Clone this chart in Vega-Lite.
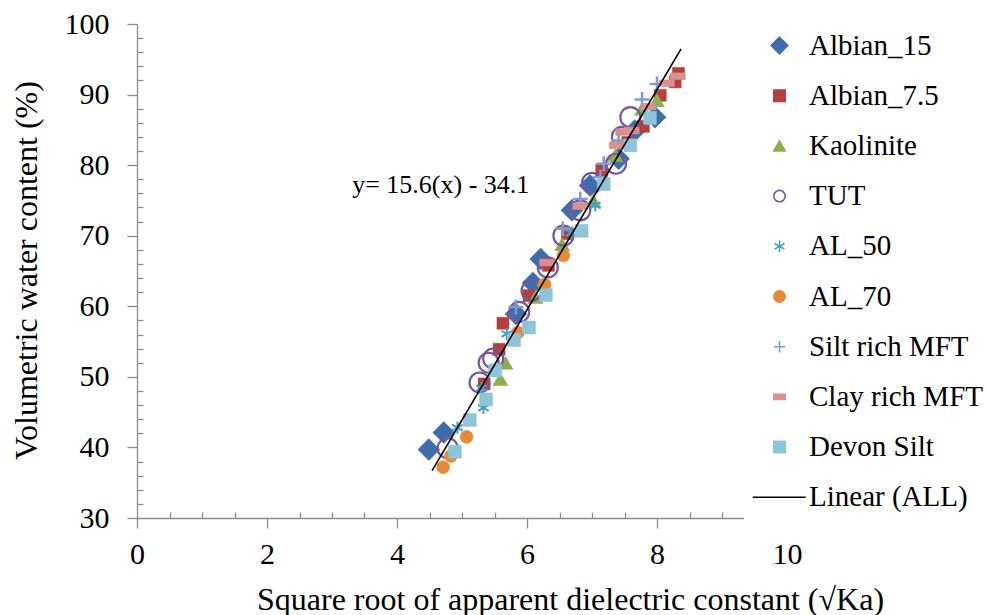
{
  "$schema": "https://vega.github.io/schema/vega-lite/v6.json",
  "width": 650,
  "height": 494,
  "autosize": {"type": "none"},
  "padding": {"left": 137, "top": 24, "right": 200, "bottom": 97},
  "background": "white",
  "config": {
    "view": {"stroke": null},
    "font": "Liberation Serif"
  },
  "resolve": {"axis": {"x": "independent", "y": "independent"}},
  "layer": [
    {
      "data": {
        "values": [
          {"series": "Albian_15", "ka": 4.49, "vwc": 39.7},
          {"series": "Albian_15", "ka": 4.72, "vwc": 42.1},
          {"series": "Albian_15", "ka": 5.83, "vwc": 58.9},
          {"series": "Albian_15", "ka": 6.09, "vwc": 63.3},
          {"series": "Albian_15", "ka": 6.21, "vwc": 66.7},
          {"series": "Albian_15", "ka": 6.69, "vwc": 73.6},
          {"series": "Albian_15", "ka": 6.97, "vwc": 77.1},
          {"series": "Albian_15", "ka": 7.41, "vwc": 80.9},
          {"series": "Albian_15", "ka": 7.66, "vwc": 84.9},
          {"series": "Albian_15", "ka": 7.97, "vwc": 86.8},

          {"series": "Albian_7.5", "ka": 5.34, "vwc": 49.0},
          {"series": "Albian_7.5", "ka": 5.57, "vwc": 53.9},
          {"series": "Albian_7.5", "ka": 5.63, "vwc": 57.6},
          {"series": "Albian_7.5", "ka": 6.03, "vwc": 61.5},
          {"series": "Albian_7.5", "ka": 6.33, "vwc": 65.8},
          {"series": "Albian_7.5", "ka": 6.62, "vwc": 70.3},
          {"series": "Albian_7.5", "ka": 7.15, "vwc": 79.3},
          {"series": "Albian_7.5", "ka": 7.55, "vwc": 83.2},
          {"series": "Albian_7.5", "ka": 7.79, "vwc": 85.5},
          {"series": "Albian_7.5", "ka": 8.05, "vwc": 89.9},
          {"series": "Albian_7.5", "ka": 8.28, "vwc": 91.8},
          {"series": "Albian_7.5", "ka": 8.33, "vwc": 93.0},

          {"series": "Kaolinite", "ka": 5.59, "vwc": 49.7},
          {"series": "Kaolinite", "ka": 5.67, "vwc": 52.0},
          {"series": "Kaolinite", "ka": 6.13, "vwc": 61.3},
          {"series": "Kaolinite", "ka": 6.54, "vwc": 68.8},
          {"series": "Kaolinite", "ka": 7.02, "vwc": 75.0},
          {"series": "Kaolinite", "ka": 7.36, "vwc": 81.4},
          {"series": "Kaolinite", "ka": 7.77, "vwc": 88.0},
          {"series": "Kaolinite", "ka": 8.0, "vwc": 89.2},

          {"series": "TUT", "ka": 4.78, "vwc": 39.9},
          {"series": "TUT", "ka": 5.27, "vwc": 49.2},
          {"series": "TUT", "ka": 5.41, "vwc": 52.0},
          {"series": "TUT", "ka": 5.48, "vwc": 52.6},
          {"series": "TUT", "ka": 5.88, "vwc": 59.2},
          {"series": "TUT", "ka": 6.07, "vwc": 62.2},
          {"series": "TUT", "ka": 6.32, "vwc": 65.5},
          {"series": "TUT", "ka": 6.56, "vwc": 70.0},
          {"series": "TUT", "ka": 6.82, "vwc": 73.6},
          {"series": "TUT", "ka": 7.0, "vwc": 77.5},
          {"series": "TUT", "ka": 7.37, "vwc": 80.2},
          {"series": "TUT", "ka": 7.46, "vwc": 84.0},
          {"series": "TUT", "ka": 7.59, "vwc": 86.8},

          {"series": "AL_50", "ka": 4.93, "vwc": 42.8},
          {"series": "AL_50", "ka": 5.33, "vwc": 45.6},
          {"series": "AL_50", "ka": 5.30, "vwc": 48.4},
          {"series": "AL_50", "ka": 5.69, "vwc": 56.1},
          {"series": "AL_50", "ka": 6.23, "vwc": 62.6},
          {"series": "AL_50", "ka": 6.68, "vwc": 70.4},
          {"series": "AL_50", "ka": 7.05, "vwc": 74.3},

          {"series": "AL_70", "ka": 4.71, "vwc": 37.2},
          {"series": "AL_70", "ka": 4.83, "vwc": 38.8},
          {"series": "AL_70", "ka": 5.07, "vwc": 41.5},
          {"series": "AL_70", "ka": 5.86, "vwc": 56.3},
          {"series": "AL_70", "ka": 6.27, "vwc": 63.1},
          {"series": "AL_70", "ka": 6.56, "vwc": 67.2},

          {"series": "Silt rich MFT", "ka": 5.83, "vwc": 59.9},
          {"series": "Silt rich MFT", "ka": 6.55, "vwc": 71.0},
          {"series": "Silt rich MFT", "ka": 6.82, "vwc": 75.2},
          {"series": "Silt rich MFT", "ka": 7.13, "vwc": 78.3},
          {"series": "Silt rich MFT", "ka": 7.18, "vwc": 80.2},
          {"series": "Silt rich MFT", "ka": 7.41, "vwc": 83.5},
          {"series": "Silt rich MFT", "ka": 7.77, "vwc": 89.3},
          {"series": "Silt rich MFT", "ka": 8.0, "vwc": 91.5},

          {"series": "Clay rich MFT", "ka": 6.31, "vwc": 66.2},
          {"series": "Clay rich MFT", "ka": 6.82, "vwc": 74.2},
          {"series": "Clay rich MFT", "ka": 7.38, "vwc": 82.8},
          {"series": "Clay rich MFT", "ka": 7.48, "vwc": 84.7},
          {"series": "Clay rich MFT", "ka": 7.61, "vwc": 84.9},
          {"series": "Clay rich MFT", "ka": 7.87, "vwc": 88.3},
          {"series": "Clay rich MFT", "ka": 8.15, "vwc": 91.6},
          {"series": "Clay rich MFT", "ka": 8.32, "vwc": 92.6},

          {"series": "Devon Silt", "ka": 4.89, "vwc": 39.4},
          {"series": "Devon Silt", "ka": 5.12, "vwc": 43.9},
          {"series": "Devon Silt", "ka": 5.37, "vwc": 46.8},
          {"series": "Devon Silt", "ka": 5.51, "vwc": 50.9},
          {"series": "Devon Silt", "ka": 5.80, "vwc": 55.2},
          {"series": "Devon Silt", "ka": 6.03, "vwc": 57.0},
          {"series": "Devon Silt", "ka": 6.29, "vwc": 61.6},
          {"series": "Devon Silt", "ka": 6.84, "vwc": 70.7},
          {"series": "Devon Silt", "ka": 7.18, "vwc": 77.3},
          {"series": "Devon Silt", "ka": 7.59, "vwc": 82.8},
          {"series": "Devon Silt", "ka": 7.89, "vwc": 86.7}
        ]
      },
      "mark": {"type": "point", "opacity": 1},
      "encoding": {
        "x": {
          "field": "ka",
          "type": "quantitative",
          "scale": {"domain": [0, 10], "nice": false, "zero": false},
          "axis": {
            "orient": "bottom",
            "title": "Square root of apparent dielectric constant (√Ka)",
            "values": [0, 2, 4, 6, 8, 10],
            "format": "d",
            "grid": false,
            "domainColor": "#8c8c8c",
            "domainWidth": 1.3,
            "tickColor": "#8c8c8c",
            "tickWidth": 1.3,
            "tickSize": 10,
            "labelFont": "Liberation Serif",
            "labelFontSize": 30,
            "labelColor": "black",
            "labelPadding": 11,
            "labelFlush": false,
            "labelOverlap": false,
            "titleFont": "Liberation Serif",
            "titleFontSize": 32,
            "titleFontWeight": "normal",
            "titleColor": "black",
            "titleX": 433,
            "titleY": 91,
            "titleAlign": "center",
            "titleBaseline": "alphabetic"
          }
        },
        "y": {
          "field": "vwc",
          "type": "quantitative",
          "scale": {"domain": [30, 100], "nice": false, "zero": false},
          "axis": {
            "orient": "left",
            "title": "Volumetric water  content (%)",
            "values": [30, 40, 50, 60, 70, 80, 90, 100],
            "format": "d",
            "grid": false,
            "domainColor": "#8c8c8c",
            "domainWidth": 1.3,
            "tickColor": "#8c8c8c",
            "tickWidth": 1.3,
            "tickSize": 10,
            "labelFont": "Liberation Serif",
            "labelFontSize": 30,
            "labelColor": "black",
            "labelPadding": 18,
            "labelFlush": false,
            "labelOverlap": false,
            "titleFont": "Liberation Serif",
            "titleFontSize": 32,
            "titleFontWeight": "normal",
            "titleColor": "black",
            "titleX": -101,
            "titleY": 246,
            "titleAlign": "center",
            "titleBaseline": "alphabetic",
            "titleAngle": -90
          }
        },
        "fill": {
          "field": "series",
          "type": "nominal",
          "scale": {
            "domain": ["Albian_15", "Albian_7.5", "Kaolinite", "TUT", "AL_50", "AL_70", "Silt rich MFT", "Clay rich MFT", "Devon Silt", "Linear (ALL)"],
            "range": ["#3e6dab", "#b53f3c", "#8dae4c", "transparent", "transparent", "#e58a3a", "transparent", "#d9908f", "#8ec5d9", "transparent"]
          },
          "legend": {
            "title": null,
            "orient": "none",
            "legendX": 607,
            "legendY": -14,
            "fillColor": "white",
            "padding": 21,
            "labelFont": "Liberation Serif",
            "labelFontSize": 29,
            "labelColor": "black",
            "labelLimit": 300,
            "labelOffset": 15,
            "symbolSize": 130,
            "symbolStrokeWidth": 1.6,
            "rowPadding": 20.2
          }
        },
        "stroke": {
          "field": "series",
          "type": "nominal",
          "scale": {
            "domain": ["Albian_15", "Albian_7.5", "Kaolinite", "TUT", "AL_50", "AL_70", "Silt rich MFT", "Clay rich MFT", "Devon Silt", "Linear (ALL)"],
            "range": ["#3e6dab", "#b53f3c", "#8dae4c", "#7857a0", "#3fa2bf", "#e58a3a", "#7e9cd3", "#d9908f", "#8ec5d9", "#000000"]
          },
          "legend": {"title": null, "orient": "none", "legendX": 607, "legendY": -14}
        },
        "shape": {
          "field": "series",
          "type": "nominal",
          "scale": {
            "domain": ["Albian_15", "Albian_7.5", "Kaolinite", "TUT", "AL_50", "AL_70", "Silt rich MFT", "Clay rich MFT", "Devon Silt", "Linear (ALL)"],
            "range": ["M0,-1.45L1.45,0L0,1.45L-1.45,0Z", "square", "triangle-up", "circle", "M0,-1L0,1M-0.87,-0.5L0.87,0.5M-0.87,0.5L0.87,-0.5", "circle", "M-1,0L1,0M0,-1L0,1", "M-1,-0.45L1,-0.45L1,0.45L-1,0.45Z", "square", "M-4.7,0L4.6,0"]
          },
          "legend": {"title": null, "orient": "none", "legendX": 607, "legendY": -14}
        },
        "size": {
          "field": "series",
          "type": "nominal",
          "scale": {
            "type": "ordinal",
            "domain": ["Linear (ALL)", "Devon Silt", "Clay rich MFT", "Silt rich MFT", "AL_70", "AL_50", "TUT", "Kaolinite", "Albian_7.5", "Albian_15"],
            "range": [130, 169, 225, 225, 169, 150, 400, 225, 144, 230]
          },
          "legend": null
        },
        "strokeWidth": {
          "field": "series",
          "type": "nominal",
          "scale": {
            "type": "ordinal",
            "domain": ["TUT", "AL_50", "Silt rich MFT", "Linear (ALL)", "Albian_15", "Albian_7.5", "Kaolinite", "AL_70", "Clay rich MFT", "Devon Silt"],
            "range": [2.2, 2, 2.5, 1.5, 0.5, 0.5, 0.5, 0.5, 0.5, 0.5]
          },
          "legend": null
        }
      }
    },
    {
      "data": {"values": [{"ka": 4.54, "vwc": 36.72}, {"ka": 8.37, "vwc": 96.47}]},
      "mark": {"type": "line", "color": "black", "strokeWidth": 1.6},
      "encoding": {
        "x": {
          "field": "ka",
          "type": "quantitative",
          "axis": {
            "orient": "bottom",
            "title": null,
            "values": [0.5, 1, 1.5, 2.5, 3, 3.5, 4.5, 5, 5.5, 6.5, 7, 7.5, 8.5, 9, 9.5],
            "tickCount": 40,
            "labels": false,
            "domain": false,
            "grid": false,
            "tickColor": "#8c8c8c",
            "tickWidth": 1.3,
            "tickSize": -6
          }
        },
        "y": {
          "field": "vwc",
          "type": "quantitative",
          "axis": {
            "orient": "left",
            "title": null,
            "values": [32, 34, 36, 38, 42, 44, 46, 48, 52, 54, 56, 58, 62, 64, 66, 68, 72, 74, 76, 78, 82, 84, 86, 88, 92, 94, 96, 98],
            "tickCount": 40,
            "labels": false,
            "domain": false,
            "grid": false,
            "tickColor": "#8c8c8c",
            "tickWidth": 1.3,
            "tickSize": -6
          }
        }
      }
    },
    {
      "data": {"values": [{"ka": 3.31, "vwc": 77.2, "label": "y= 15.6(x) - 34.1"}]},
      "mark": {"type": "text", "align": "left", "baseline": "middle", "font": "Liberation Serif", "fontSize": 26, "color": "black"},
      "encoding": {
        "x": {"field": "ka", "type": "quantitative", "axis": null},
        "y": {"field": "vwc", "type": "quantitative", "axis": null},
        "text": {"field": "label"}
      }
    }
  ]
}
